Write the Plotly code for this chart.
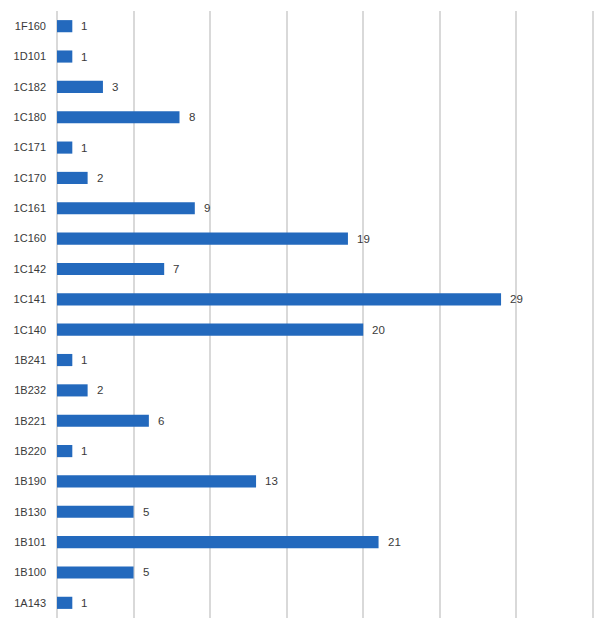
import plotly.graph_objects as go

categories = ["1A143", "1B100", "1B101", "1B130", "1B190", "1B220", "1B221", "1B232", "1B241",
              "1C140", "1C141", "1C142", "1C160", "1C161", "1C170", "1C171", "1C180", "1C182",
              "1D101", "1F160"]
values = [1, 5, 21, 5, 13, 1, 6, 2, 1, 20, 29, 7, 19, 9, 2, 1, 8, 3, 1, 1]

bar_color = "#2369BD"
text_color = "#3A3A3A"

fig = go.Figure(go.Bar(
    x=values, y=categories, orientation="h",
    marker=dict(color=bar_color, line=dict(width=0)),
    width=0.4,
))

for c, v in zip(categories, values):
    fig.add_annotation(x=v, y=c, text=str(v), showarrow=False, xanchor="left",
                       xshift=7, font=dict(size=11.5, color=text_color, family="Liberation Sans"))

fig.update_layout(
    width=606, height=630,
    margin=dict(l=57, r=10, t=11, b=12),
    paper_bgcolor="white", plot_bgcolor="white",
    showlegend=False,
    font=dict(family="Liberation Sans", size=11, color=text_color),
    xaxis=dict(range=[0, 35.2], dtick=5, showgrid=True, gridcolor="#D9D9D9", gridwidth=2,
               showticklabels=False, zeroline=True, zerolinecolor="#D9D9D9", zerolinewidth=2,
               showline=False, fixedrange=True),
    yaxis=dict(categoryorder="array", categoryarray=categories, showgrid=False,
               ticks="", ticklabelstandoff=10, tickfont=dict(size=11, color=text_color),
               showline=False, range=[-0.5, len(categories) - 0.5]),
)

fig.write_html("out.html")
